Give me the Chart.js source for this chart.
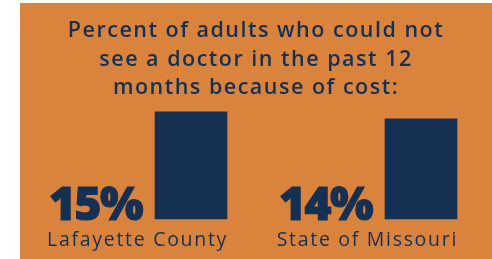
<!DOCTYPE html>
<html lang="en">
<head>
<meta charset="UTF-8">
<title>Cost barrier to seeing a doctor</title>
<script src="https://cdn.jsdelivr.net/npm/chart.js"></script>
<style>
  html, body { margin: 0; padding: 0; background: #ffffff; }
  .wrap { width: 492px; height: 259px; position: relative; }
</style>
</head>
<body>
<div class="wrap"><canvas id="chart"></canvas></div>
<script>
// Data
const categories = ['Lafayette County', 'State of Missouri'];
const values = [15, 14];
const valueLabels = ['15%', '14%'];
const titleLines = [
    'Percent of adults who could not',
    'see a doctor in the past 12',
    'months because of cost:'
];

const ORANGE = '#DA833C';
const NAVY = '#163054';

// Orange panel behind everything, plus the title
const panelPlugin = {
    id: 'panel',
    beforeDraw(chart) {
        const ctx = chart.ctx;
        ctx.save();
        ctx.fillStyle = '#ffffff';
        ctx.fillRect(0, 0, chart.width, chart.height);
        ctx.fillStyle = ORANGE;
        ctx.fillRect(20, 3, chart.width - 20, chart.height - 3);

        ctx.fillStyle = NAVY;
        ctx.font = '600 21.5px "Open Sans"';
        ctx.letterSpacing = '1.5px';
        ctx.textAlign = 'center';
        ctx.textBaseline = 'alphabetic';
        titleLines.forEach((line, i) => {
            ctx.fillText(line, 256, 37 + i * 28.5);
        });
        ctx.restore();
    }
};

// Big percentages left of each bar, category names underneath
const labelPlugin = {
    id: 'barLabels',
    afterDatasetsDraw(chart) {
        const ctx = chart.ctx;
        const meta = chart.getDatasetMeta(0);
        ctx.save();
        ctx.fillStyle = NAVY;
        ctx.strokeStyle = NAVY;
        ctx.textBaseline = 'alphabetic';
        meta.data.forEach((bar, i) => {
            const left = bar.x - bar.width / 2;
            const right = bar.x + bar.width / 2;

            ctx.textAlign = 'right';
            ctx.font = '800 46px "Open Sans"';
            ctx.letterSpacing = '-1.5px';
            ctx.lineWidth = 1.2;
            ctx.fillText(valueLabels[i], left - 13, bar.base + 1);
            ctx.strokeText(valueLabels[i], left - 13, bar.base + 1);

            ctx.font = '400 19.5px "Open Sans"';
            ctx.letterSpacing = '1.7px';
            ctx.fillText(categories[i], right + 1, bar.base + 27);
        });
        ctx.restore();
    }
};

new Chart(document.getElementById('chart').getContext('2d'), {
    type: 'bar',
    data: {
        labels: categories,
        datasets: [{
            data: values,
            backgroundColor: NAVY,
            barThickness: 72,
            clip: false
        }]
    },
    options: {
        responsive: true,
        maintainAspectRatio: false,
        animation: false,
        layout: { padding: { left: 191, right: 71, top: 76, bottom: 40 } },
        plugins: {
            legend: { display: false },
            tooltip: { enabled: false }
        },
        scales: {
            x: { display: false, offset: false },
            y: { display: false, min: 0, max: 20 }
        }
    },
    plugins: [panelPlugin, labelPlugin]
});
</script>
</body>
</html>
